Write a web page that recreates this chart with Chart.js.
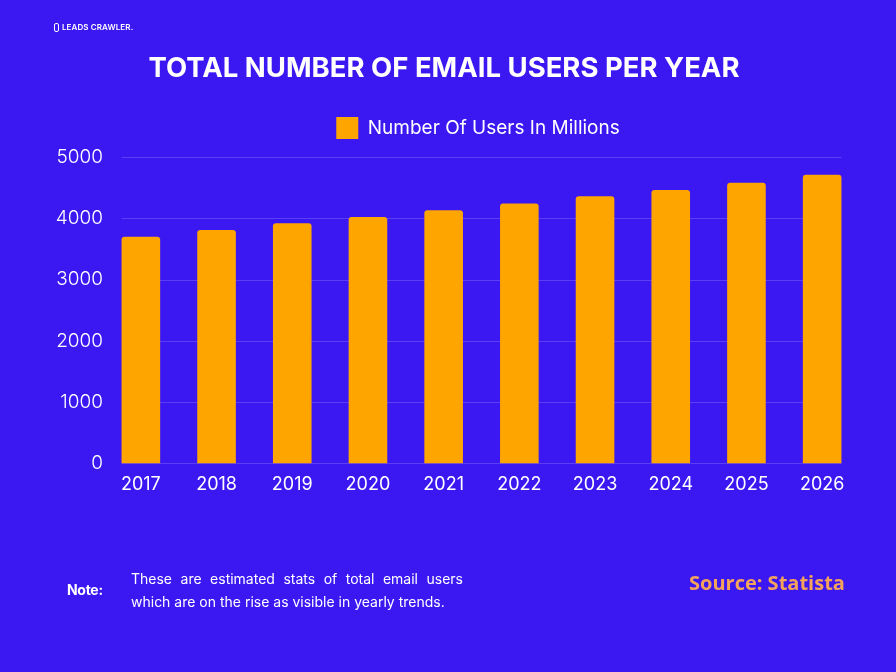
<!DOCTYPE html>
<html>
<head>
<meta charset="utf-8">
<script src="https://cdn.jsdelivr.net/npm/chart.js@4.4.1/dist/chart.umd.min.js"></script>
<style>
  html, body { margin: 0; padding: 0; }
  body { width: 896px; height: 672px; background: #3b17f2; position: relative; overflow: hidden; font-family: 'Inter', 'Lato', sans-serif; color: #fff; }
  #wrap { position: absolute; left: 0; top: 0; width: 896px; height: 672px; }
  .logo { position: absolute; left: 54px; top: 22px; font-size: 8px; font-weight: 600; letter-spacing: 0.1px; }
  .logo span { display: inline-block; width: 5px; height: 9px; border: 1px solid #fff; border-radius: 2px; margin-right: 3px; vertical-align: -2px; box-sizing: border-box; }
  .title { position: absolute; left: 0; width: 888px; top: 49px; text-align: center; font-size: 27.5px; font-weight: 700; line-height: 36px; }
  .note-lbl { position: absolute; left: 67px; top: 581px; font-size: 14px; font-weight: 700; letter-spacing: -0.3px; }
  .note { position: absolute; left: 131px; top: 567px; width: 332px; font-size: 14px; line-height: 23px; text-align: justify; text-align-last: left; }
  .source { position: absolute; left: 689px; top: 569px; font-size: 20px; font-weight: 700; color: #f3a35b; font-family: 'Open Sans', sans-serif; }
</style>
</head>
<body>
<div id="wrap"><canvas id="c" width="896" height="672"></canvas></div>
<div class="logo"><span></span>LEADS CRAWLER.</div>
<div class="title">TOTAL NUMBER OF EMAIL USERS PER YEAR</div>
<div class="note-lbl">Note:</div>
<div class="note">These are estimated stats of total email users which are on the rise as visible in yearly trends.</div>
<div class="source">Source: Statista</div>
<script>
// data
const years = ['2017', '2018', '2019', '2020', '2021', '2022', '2023', '2024', '2025', '2026'];
const users = [3700, 3810, 3920, 4020, 4130, 4240, 4360, 4460, 4580, 4710];
const seriesName = 'Number Of Users In Millions';

const barColor = '#ffa500';
const gridColor = 'rgba(255,255,255,0.17)';

// grid lines only span from first bar's left edge to last bar's right edge
const gridPlugin = {
  id: 'shortGrid',
  beforeDatasetsDraw(chart) {
    const { ctx, scales: { y } } = chart;
    const meta = chart.getDatasetMeta(0);
    const first = meta.data[0], last = meta.data[meta.data.length - 1];
    const x0 = first.x - first.width / 2, x1 = last.x + last.width / 2;
    ctx.save();
    ctx.strokeStyle = gridColor;
    ctx.lineWidth = 1;
    y.ticks.forEach(t => {
      const py = Math.round(y.getPixelForValue(t.value)) + 0.5;
      ctx.beginPath(); ctx.moveTo(x0, py); ctx.lineTo(x1, py); ctx.stroke();
    });
    ctx.restore();
  }
};

// nudge legend: centred a bit right of the plot and sitting a little higher
const legendNudge = {
  id: 'legendNudge',
  afterLayout(chart) {
    const lg = chart.legend;
    const dx = 478 - (lg.left + lg.right) / 2, dy = -8;
    lg.left += dx; lg.right += dx;
    lg.top += dy; lg.bottom += dy;
  }
};

new Chart(document.getElementById('c'), {
  type: 'bar',
  data: {
    labels: years,
    datasets: [{
      label: seriesName,
      data: users,
      backgroundColor: barColor,
      borderRadius: 3,
      borderSkipped: 'bottom',
      barPercentage: 0.51,
      categoryPercentage: 1
    }]
  },
  plugins: [gridPlugin, legendNudge],
  options: {
    responsive: false,
    animation: false,
    layout: { padding: { left: 43, right: 36, top: 109, bottom: 167 } },
    plugins: {
      legend: {
        labels: {
          color: '#fff', boxWidth: 22, boxHeight: 22, padding: 16,
          font: { family: 'Inter', size: 19 }
        }
      },
      tooltip: { enabled: false }
    },
    scales: {
      x: {
        grid: { display: false, drawTicks: false },
        border: { display: false },
        ticks: { color: '#fff', font: { family: 'Inter', size: 18 }, padding: 10 }
      },
      y: {
        min: 0, max: 5000,
        afterFit(scale) { scale.width = 60; },
        grid: { display: false, drawTicks: false },
        border: { display: false },
        ticks: {
          stepSize: 1000, color: '#fff', padding: 0,
          font: { family: 'Inter', size: 19, weight: '300' },
          callback: v => String(v)
        }
      }
    }
  }
});
</script>
</body>
</html>
